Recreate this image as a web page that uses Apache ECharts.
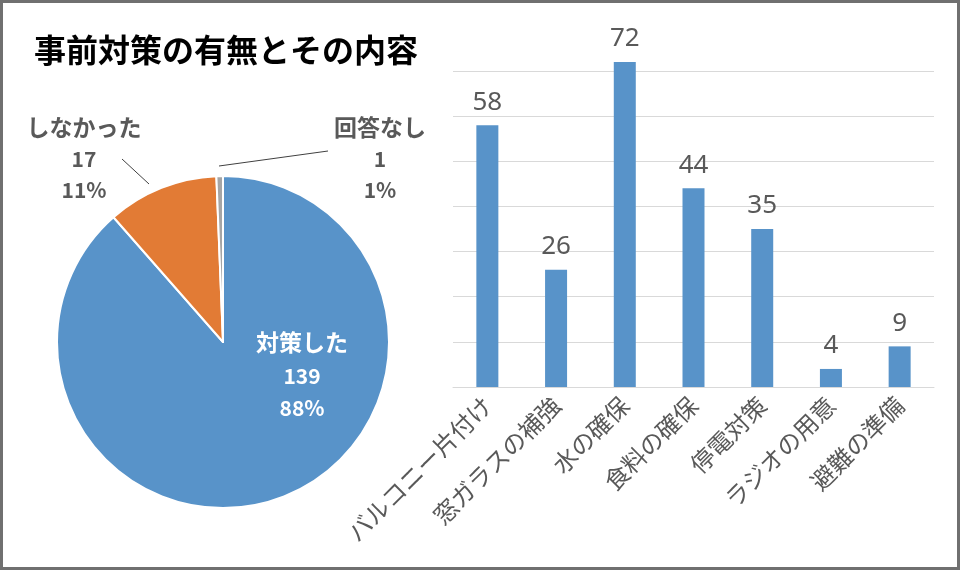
<!DOCTYPE html>
<html>
<head>
<meta charset="utf-8">
<title>事前対策の有無とその内容</title>
<script src="https://cdn.jsdelivr.net/npm/echarts@6/dist/echarts.min.js"></script>
<style>
  html, body { margin: 0; padding: 0; background: #fff; }
  .wrap { position: relative; width: 960px; height: 570px; }
  #chart { position: absolute; left: 0; top: 0; width: 960px; height: 570px; }
  .frame {
    position: absolute; left: 0; top: 0; width: 960px; height: 570px;
    box-sizing: border-box; border: 3px solid #707070; pointer-events: none;
  }
</style>
</head>
<body>
<div class="wrap">
  <div id="chart"></div>
  <div class="frame"></div>
</div>
<script>
// 円グラフ: 事前対策の有無
const pieNames = ['対策した', 'しなかった', '回答なし'];
const pieValues = [139, 17, 1];
const pieColors = ['#5893C9', '#E27B35', '#A5A5A5'];

// 棒グラフ: 対策の内容
const barCategories = ['バルコニー片付け', '窓ガラスの補強', '水の確保', '食料の確保', '停電対策', 'ラジオの用意', '避難の準備'];
const barValues = [58, 26, 72, 44, 35, 4, 9];

const jp = '"Noto Sans CJK JP", "Noto Sans", sans-serif';
const gray = '#595959';

// ラベルの置き場所と引き出し線（レイアウト用）
const pieLabelAt = [[302, 374], [84, 158], [380, 158]];
const pieLeaders = [null, [[149, 184], [122, 159]], [[219, 166], [328, 151]]];

const chart = echarts.init(document.getElementById('chart'));

chart.setOption({
  animation: false,
  title: {
    text: '事前対策の有無とその内容',
    left: 34,
    top: 34,
    padding: 0,
    textStyle: { fontFamily: jp, fontSize: 32, fontWeight: 'bold', color: '#000' }
  },
  grid: { left: 453, right: 26, top: 71, bottom: 183 },
  xAxis: {
    type: 'category',
    data: barCategories,
    axisLine: { lineStyle: { color: '#D9D9D9' } },
    axisTick: { show: false },
    axisLabel: {
      interval: 0,
      rotate: 45,
      margin: 14,
      fontFamily: jp,
      fontSize: 24,
      color: gray
    }
  },
  yAxis: {
    type: 'value',
    min: 0,
    max: 70,
    interval: 10,
    axisLine: { show: false },
    axisLabel: { show: false },
    splitLine: { lineStyle: { color: '#D9D9D9' } }
  },
  series: [
    {
      type: 'bar',
      data: barValues,
      barWidth: 22,
      clip: false,
      itemStyle: { color: pieColors[0] },
      label: {
        show: true,
        position: 'top',
        distance: 10,
        fontFamily: '"Noto Sans", sans-serif',
        fontSize: 26,
        color: gray
      }
    },
    {
      type: 'pie',
      center: [223, 342],
      radius: 166,
      startAngle: 90,
      percentPrecision: 0,
      avoidLabelOverlap: false,
      itemStyle: { borderColor: '#fff', borderWidth: 2 },
      label: {
        show: true,
        formatter: '{n|{b}}\n{v|{c}}\n{v|{d}%}',
        rich: {
          n: { fontFamily: jp, fontSize: 23, fontWeight: 'bold', color: gray, lineHeight: 34 },
          v: { fontFamily: jp, fontSize: 21, fontWeight: 'bold', color: gray, lineHeight: 31 }
        }
      },
      labelLine: { show: true, length: 10, length2: 0, lineStyle: { color: '#404040', width: 1 } },
      labelLayout: function (p) {
        const at = pieLabelAt[p.dataIndex];
        const out = { x: at[0], y: at[1], align: 'center', verticalAlign: 'middle' };
        if (pieLeaders[p.dataIndex]) out.labelLinePoints = pieLeaders[p.dataIndex];
        return out;
      },
      data: pieNames.map(function (name, i) {
        const item = { name: name, value: pieValues[i], itemStyle: { color: pieColors[i] } };
        if (i === 0) {
          item.labelLine = { show: false };
          item.label = {
            rich: {
              n: { fontFamily: jp, fontSize: 23, fontWeight: 'bold', color: '#fff', lineHeight: 36 },
              v: { fontFamily: jp, fontSize: 21, fontWeight: 'bold', color: '#fff', lineHeight: 32 }
            }
          };
        }
        return item;
      })
    }
  ]
});
</script>
</body>
</html>
